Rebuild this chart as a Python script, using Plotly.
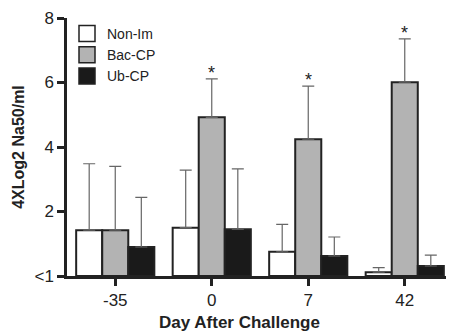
import plotly.graph_objects as go

categories = ["-35", "0", "7", "42"]
series_names = ["Non-Im", "Bac-CP", "Ub-CP"]
non_im = [1.42, 1.50, 0.75, 0.12]
non_im_err = [2.06, 1.78, 0.85, 0.14]
bac_cp = [1.42, 4.92, 4.24, 6.01]
bac_cp_err = [1.98, 1.19, 1.65, 1.34]
ub_cp = [0.90, 1.45, 0.62, 0.31]
ub_cp_err = [1.54, 1.87, 0.59, 0.34]
y_tick_vals = [0, 2, 4, 6, 8]
y_tick_text = ["<1", "2", "4", "6", "8"]
sig_markers = ["", "*", "*", "*"]

colors = ["#ffffff", "#b3b3b3", "#1a1a1a"]
values = [non_im, bac_cp, ub_cp]
errors = [non_im_err, bac_cp_err, ub_cp_err]

fig = go.Figure()
for name, vals, errs, col in zip(series_names, values, errors, colors):
    fig.add_trace(go.Bar(
        x=categories, y=vals, name=name, showlegend=False,
        marker=dict(color=col, line=dict(color="#222222", width=2)),
        error_y=dict(type="data", array=errs, arrayminus=[0]*len(errs), symmetric=False,
                     color="#666666", thickness=1.2, width=6),
    ))
# legend entries
for name, col in zip(series_names, colors):
    fig.add_trace(go.Scatter(
        x=[None], y=[None], mode="markers", name=name,
        marker=dict(symbol="square", size=16, color=col, line=dict(color="#222222", width=1.5)),
    ))

for i, (v, e, s) in enumerate(zip(bac_cp, bac_cp_err, sig_markers)):
    if s:
        fig.add_annotation(x=i, y=v + e, text=s, showarrow=False, yanchor="bottom",
                           yshift=-6, font=dict(size=18, color="#222222"))

# x-axis title (placed slightly left of centre, as in the original)
fig.add_annotation(xref="paper", yref="paper", x=0.448, y=-0.181, xanchor="center", yanchor="middle",
                   text="<b>Day After Challenge</b>", showarrow=False,
                   font=dict(size=17, color="#222222"))

fig.update_layout(
    width=446, height=325,
    margin=dict(l=59, r=1, t=8, b=57),
    paper_bgcolor="white", plot_bgcolor="white",
    barmode="group", bargap=0.19, bargroupgap=0,
    font=dict(family="Liberation Sans, Arial, sans-serif", color="#222222"),
    legend=dict(x=0.0, y=1.0, xanchor="left", yanchor="top", bgcolor="rgba(0,0,0,0)",
                font=dict(size=14, color="#222222"), tracegroupgap=0, itemwidth=30,
                traceorder="normal"),
    xaxis=dict(
        type="category",
        range=[-0.5, 3.5], showline=True, linecolor="#222222", linewidth=2.5,
        ticks="outside", ticklen=7, tickwidth=2.5, tickcolor="#222222",
        tickfont=dict(size=17), showgrid=False, zeroline=False,
    ),
    yaxis=dict(
        range=[0, 8], showline=True, linecolor="#222222", linewidth=2.5,
        ticks="outside", ticklen=7, tickwidth=2.5, tickcolor="#222222",
        tickvals=y_tick_vals, ticktext=y_tick_text, tickfont=dict(size=17),
        ticklabeloverflow="allow",
        showgrid=False, zeroline=False,
        title=dict(text="<b>4XLog2 Na50/ml</b>", font=dict(size=16), standoff=6),
    ),
)

fig.write_html("out.html")
